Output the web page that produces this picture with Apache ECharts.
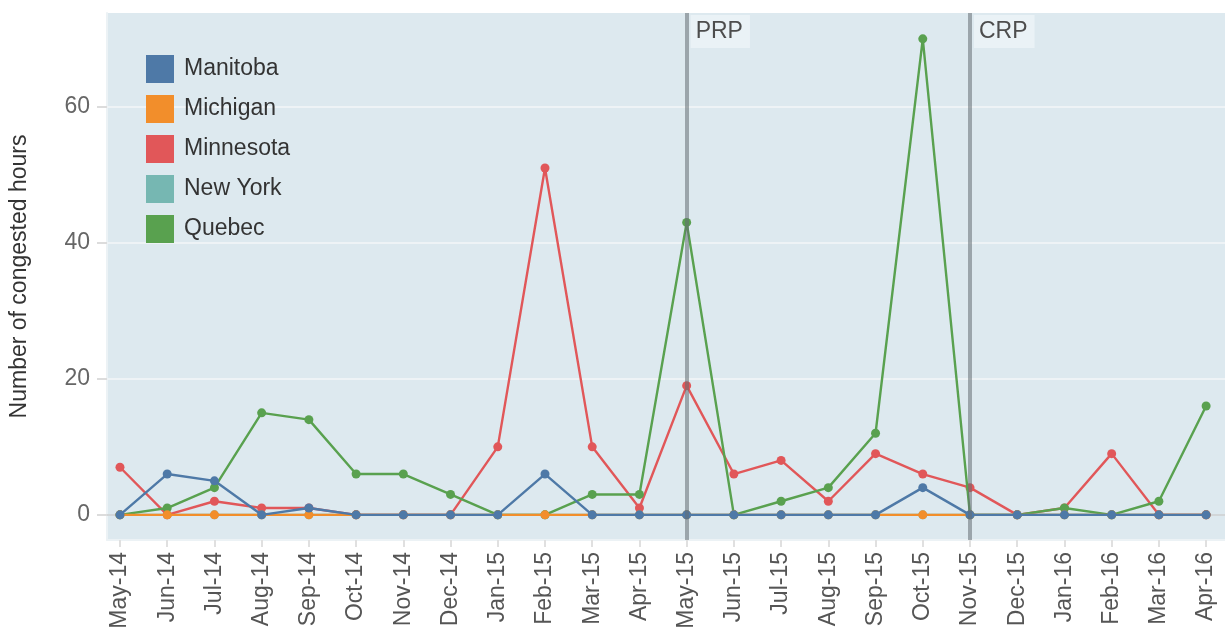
<!DOCTYPE html>
<html>
<head>
<meta charset="utf-8">
<script src="https://cdn.jsdelivr.net/npm/echarts@6/dist/echarts.min.js"></script>
<style>
  html, body { margin: 0; padding: 0; background: #fff; }
  #main { width: 1225px; height: 631px; }
</style>
</head>
<body>
<div id="main"></div>
<script>
// months on the x axis
const months = ['May-14', 'Jun-14', 'Jul-14', 'Aug-14', 'Sep-14', 'Oct-14', 'Nov-14', 'Dec-14',
  'Jan-15', 'Feb-15', 'Mar-15', 'Apr-15', 'May-15', 'Jun-15', 'Jul-15', 'Aug-15', 'Sep-15',
  'Oct-15', 'Nov-15', 'Dec-15', 'Jan-16', 'Feb-16', 'Mar-16', 'Apr-16'];

// congested hours per region
const manitoba  = [0, 6, 5, 0, 1, 0, 0, 0, 0, 6, 0, 0, 0, 0, 0, 0, 0, 4, 0, 0, 0, 0, 0, 0];
const michigan  = [0, 0, 0, 0, 0, 0, 0, 0, 0, 0, 0, 0, 0, 0, 0, 0, 0, 0, 0, 0, 0, 0, 0, 0];
const minnesota = [7, 0, 2, 1, 1, 0, 0, 0, 10, 51, 10, 1, 19, 6, 8, 2, 9, 6, 4, 0, 1, 9, 0, 0];
const newYork   = [0, 0, 0, 0, 0, 0, 0, 0, 0, 0, 0, 0, 0, 0, 0, 0, 0, 0, 0, 0, 0, 0, 0, 0];
const quebec    = [0, 1, 4, 15, 14, 6, 6, 3, 0, 0, 3, 3, 43, 0, 2, 4, 12, 70, 0, 0, 1, 0, 2, 16];

const yTicks = [0, 20, 40, 60];
const events = [{ name: 'PRP', month: 'May-15' }, { name: 'CRP', month: 'Nov-15' }];

const yMin = -3.7, yMax = 73.8;
const legendOrder = ['Manitoba', 'Michigan', 'Minnesota', 'New York', 'Quebec'];

function pts(arr) {
  return arr.map((v, i) => [i, v]);
}

function lineSeries(name, data, color, z, extra) {
  return Object.assign({
    name: name,
    type: 'line',
    data: pts(data),
    color: color,
    z: z,
    symbol: 'circle',
    symbolSize: 9,
    showAllSymbol: true,
    lineStyle: { width: 2.4, color: color },
    itemStyle: { color: color },
    emphasis: { disabled: true },
    animation: false
  }, extra || {});
}

const tickIdx = months.map((m, i) => i);

let option = {
  backgroundColor: '#fff',
  textStyle: { fontFamily: 'Liberation Sans, Arial, sans-serif' },
  grid: {
    left: 107, right: 0, top: 13, bottom: 91,
    outerBoundsMode: 'none',
    show: true, backgroundColor: '#dde9ef', borderWidth: 0
  },
  legend: {
    data: legendOrder,
    orient: 'vertical',
    left: 146, top: 55, padding: 0,
    icon: 'rect',
    itemWidth: 28, itemHeight: 28, itemGap: 12,
    z: 10,
    textStyle: { fontSize: 23, color: '#333', padding: [0, 0, 0, 5] }
  },
  xAxis: {
    type: 'value',
    min: -0.275, max: 23.4,
    splitLine: { show: false },
    axisLine: { show: true, onZero: false, lineStyle: { color: '#ecf2f5', width: 2 } },
    axisTick: { show: true, customValues: tickIdx, length: 7, lineStyle: { color: '#e0e0e0', width: 2 } },
    axisLabel: {
      customValues: tickIdx, rotate: 90, margin: 12,
      fontSize: 23, color: '#555',
      formatter: v => months[v]
    }
  },
  yAxis: {
    type: 'value',
    min: yMin, max: yMax,
    name: 'Number of congested hours',
    nameLocation: 'middle',
    nameGap: 76,
    nameTextStyle: { fontSize: 23, color: '#333' },
    splitLine: { show: false },
    axisLine: { show: true, onZero: false, lineStyle: { color: '#ecf2f5', width: 2 } },
    axisTick: { show: true, customValues: yTicks, length: 10, lineStyle: { color: '#dcdcdc', width: 2 } },
    axisLabel: { customValues: yTicks, fontSize: 23, color: '#666', margin: 17 }
  },
  series: [
    lineSeries('New York', newYork, '#76b7b2', 2, {
      markLine: {
        silent: true, symbol: 'none', animation: false, z: 1,
        label: { show: false },
        data: yTicks.map(t => ({
          yAxis: t,
          lineStyle: { color: t === 0 ? '#d2d6d8' : '#eef3f6', width: 2, type: 'solid' }
        }))
      }
    }),
    lineSeries('Minnesota', minnesota, '#e15759', 3),
    lineSeries('Quebec', quebec, '#59a14f', 4),
    lineSeries('Michigan', michigan, '#f28e2b', 5),
    lineSeries('Manitoba', manitoba, '#4e79a7', 6, {
      markLine: {
        silent: true, symbol: 'none', animation: false, z: 8,
        label: { show: false },
        lineStyle: { color: 'rgba(100,110,115,0.55)', width: 4, type: 'solid' },
        data: events.map(e => ({ xAxis: months.indexOf(e.month) }))
      },
      markPoint: {
        silent: true, animation: false, z: 9,
        symbol: 'circle', symbolSize: 0,
        data: events.map(e => ({
          coord: [months.indexOf(e.month), yMax],
          label: {
            show: true, formatter: e.name,
            position: [4, 2], align: 'left', verticalAlign: 'top',
            fontSize: 23, lineHeight: 23, color: '#4d4d4d',
            backgroundColor: '#eaf2f6', padding: [5, 7, 5, 5]
          }
        }))
      }
    })
  ]
};

let myChart = echarts.init(document.getElementById('main'));
myChart.setOption(option);
</script>
</body>
</html>
